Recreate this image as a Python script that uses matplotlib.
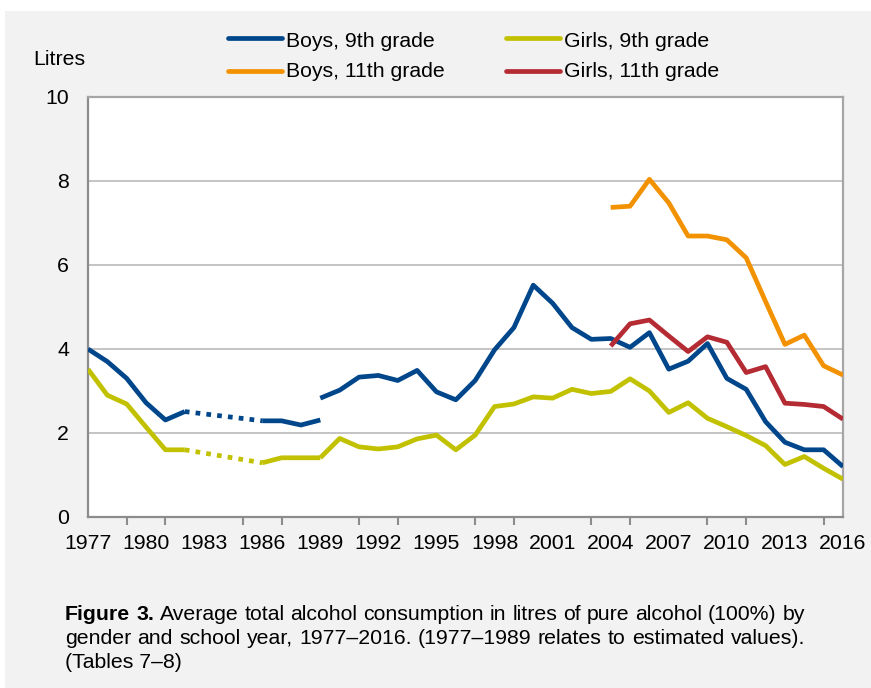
import matplotlib
matplotlib.use("Agg")
import matplotlib.pyplot as plt
from matplotlib.lines import Line2D
from matplotlib.patches import Rectangle

plt.rcParams['font.family'] = ['Liberation Sans', 'DejaVu Sans']

# ---- data ----
est_years = [1977, 1978, 1979, 1980, 1981, 1982, 1986, 1987, 1988, 1989]
boys9_est = [4.00, 3.70, 3.30, 2.72, 2.31, 2.51, 2.29, 2.29, 2.19, 2.31]
girls9_est = [3.52, 2.90, 2.69, 2.14, 1.60, 1.60, 1.29, 1.41, 1.41, 1.41]

years = list(range(1989, 2017))
boys9 = [2.83, 3.02, 3.33, 3.37, 3.25, 3.49, 2.98, 2.79, 3.25, 3.98, 4.51, 5.52, 5.09, 4.51,
         4.23, 4.25, 4.04, 4.39, 3.52, 3.71, 4.13, 3.30, 3.04, 2.27, 1.78, 1.60, 1.60, 1.20]
girls9 = [1.41, 1.87, 1.67, 1.62, 1.67, 1.86, 1.95, 1.60, 1.95, 2.63, 2.69, 2.86, 2.83, 3.04,
          2.94, 2.99, 3.29, 3.00, 2.49, 2.72, 2.35, 2.15, 1.94, 1.70, 1.25, 1.44, 1.16, 0.90]

years11 = list(range(2004, 2017))
boys11 = [7.37, 7.40, 8.04, 7.48, 6.69, 6.69, 6.60, 6.17, 5.13, 4.11, 4.33, 3.60, 3.38]
girls11 = [4.07, 4.60, 4.69, 4.31, 3.94, 4.29, 4.16, 3.44, 3.58, 2.71, 2.68, 2.63, 2.33]

labels = ["Boys, 9th grade", "Girls, 9th grade", "Boys, 11th grade", "Girls, 11th grade"]
xlabels = list(range(1977, 2017, 3))

caption_bold = "Figure 3."
caption_lines = [
    "Average total alcohol consumption in litres of pure alcohol (100%) by",
    "gender and school year, 1977–2016. (1977–1989 relates to estimated values).",
    "(Tables 7–8)",
]

C_BLUE = '#00468b'
C_YEL = '#c1c100'
C_ORA = '#f39200'
C_RED = '#b52b33'
FS = 15.3

W, H = 871, 688
fig = plt.figure(figsize=(W / 100, H / 100), dpi=100, facecolor='white')
fig.add_artist(Rectangle((5 / W, 0), 1, 1 - 11 / H, transform=fig.transFigure,
                         facecolor='#f2f2f2', edgecolor='none', zorder=-10))

L, R, T, B = 88, 843, 97, 517
ax = fig.add_axes([L / W, 1 - B / H, (R - L) / W, (B - T) / H])
ax.set_facecolor('white')

lw = 3.4
dot = (0, (1.0, 1.3))

def draw_est(vals, color):
    ax.plot(est_years[:6], vals[:6], color=color, lw=lw, solid_capstyle='butt', zorder=3)
    ax.plot(est_years[5:7], vals[5:7], color=color, lw=lw, linestyle=dot,
            dash_capstyle='butt', zorder=3)
    ax.plot(est_years[6:], vals[6:], color=color, lw=lw, solid_capstyle='butt', zorder=3)

draw_est(boys9_est, C_BLUE)
draw_est(girls9_est, C_YEL)
ax.plot(years, boys9, color=C_BLUE, lw=lw, solid_capstyle='butt', zorder=3)
ax.plot(years, girls9, color=C_YEL, lw=lw, solid_capstyle='butt', zorder=3)
ax.plot(years11, boys11, color=C_ORA, lw=lw, solid_capstyle='butt', zorder=4)
ax.plot(years11, girls11, color=C_RED, lw=lw, solid_capstyle='butt', zorder=5)

ax.set_xlim(1977, 2016)
ax.set_ylim(0, 10)
ax.set_yticks(range(0, 11, 2))
ax.grid(axis='y', color='#bfbfbf', lw=1.3, zorder=0)
ax.set_axisbelow(True)

ax.set_xticks(xlabels)
ax.set_xticklabels([str(x) for x in xlabels])
ax.set_xticks(range(1977, 2017, 2), minor=True)
ax.tick_params(axis='x', which='major', length=0, pad=12.5, labelsize=FS, colors='black')
ax.tick_params(axis='x', which='minor', length=6, width=1.5, color='#8c8c8c', direction='out')
ax.tick_params(axis='y', length=0, pad=13.5, labelsize=FS)

for s in ax.spines.values():
    s.set_color('#8c8c8c')
    s.set_linewidth(1.6)
for s in ['top', 'right']:
    ax.spines[s].set_color('#a6a6a6')

fig.text(33 / W, 1 - 65 / H, "Litres", fontsize=FS, va='baseline', ha='left')

# legend
handles = [(C_BLUE, 228, 38, 47), (C_YEL, 506, 38, 47), (C_ORA, 228, 71, 77), (C_RED, 506, 71, 77)]
for (c, x0, yl, yb), lab in zip(handles, labels):
    fig.add_artist(Line2D([x0 / W, (x0 + 54) / W], [1 - yl / H, 1 - yl / H],
                          transform=fig.transFigure, color=c, lw=lw, solid_capstyle='round'))
    fig.text((x0 + 58) / W, 1 - yb / H, lab, fontsize=FS, va='baseline', ha='left')

# caption (justified like the original)
renderer = fig.canvas.get_renderer()
cap_left, cap_right = 65, 805
baselines = [620, 644, 668]

def width_of(txt, bold=False):
    t = fig.text(0, 0, txt, fontsize=FS, fontweight='bold' if bold else 'normal')
    w = t.get_window_extent(renderer=renderer).width
    t.remove()
    return w

def justified_line(words, yb):
    widths = [width_of(w, b) for w, b in words]
    gap = (cap_right - cap_left - sum(widths)) / (len(words) - 1)
    x = cap_left
    for (w, b), wd in zip(words, widths):
        fig.text(x / W, 1 - yb / H, w, fontsize=FS, fontweight='bold' if b else 'normal',
                 va='baseline', ha='left')
        x += wd + gap

line1 = [(w, True) for w in caption_bold.split()] + [(w, False) for w in caption_lines[0].split()]
justified_line(line1, baselines[0])
justified_line([(w, False) for w in caption_lines[1].split()], baselines[1])
fig.text(cap_left / W, 1 - baselines[2] / H, caption_lines[2], fontsize=FS,
         va='baseline', ha='left')

fig.savefig("out.png", dpi=100, facecolor=fig.get_facecolor())
